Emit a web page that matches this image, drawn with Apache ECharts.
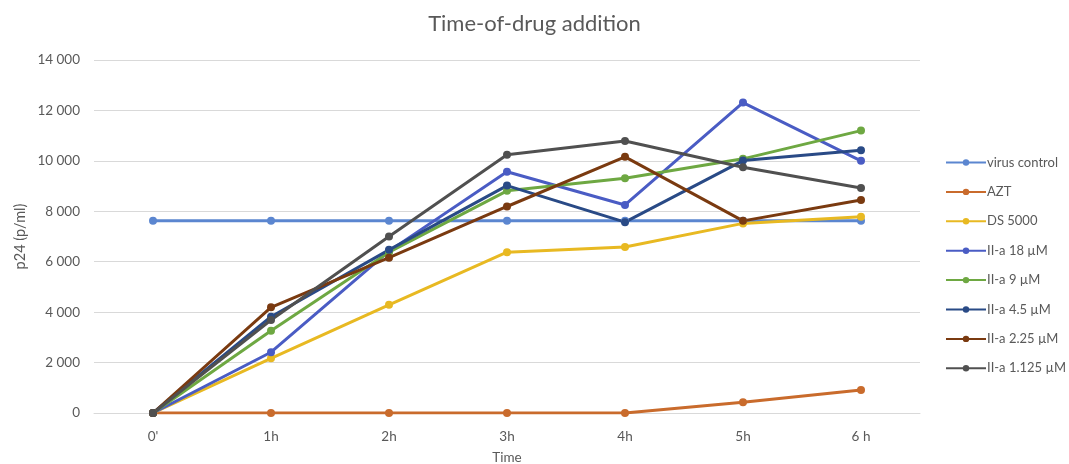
<!DOCTYPE html>
<html>
<head>
<meta charset="utf-8">
<script src="https://cdn.jsdelivr.net/npm/echarts@6/dist/echarts.min.js"></script>
<style>html,body{margin:0;padding:0;background:#fff}#c{width:1069px;height:464px}</style>
</head>
<body>
<div id="c"></div>
<script>
const categories = ["0'", "1h", "2h", "3h", "4h", "5h", "6 h"];
const virusControl = [7620, 7620, 7620, 7620, 7620, 7620, 7620];
const azt = [0, 0, 0, 0, 0, 430, 910];
const ds5000 = [0, 2170, 4290, 6380, 6580, 7520, 7780];
const iia18 = [0, 2410, 6420, 9570, 8250, 12310, 10000];
const iia9 = [0, 3260, 6380, 8810, 9310, 10080, 11200];
const iia45 = [0, 3820, 6470, 9020, 7570, 10010, 10420];
const iia225 = [0, 4190, 6160, 8190, 10160, 7620, 8450];
const iia1125 = [0, 3690, 7000, 10240, 10790, 9750, 8920];

const seriesNames = ["virus control", "AZT", "DS 5000", "II-a 18 µM", "II-a 9 µM", "II-a 4.5 µM", "II-a 2.25 µM", "II-a 1.125 µM"];
const seriesData = [virusControl, azt, ds5000, iia18, iia9, iia45, iia225, iia1125];
const colors = ["#5B86D0", "#C96B2C", "#E8B922", "#4A5CC4", "#6EA842", "#294A86", "#7A3A10", "#505050"];

const chart = echarts.init(document.getElementById('c'));
chart.setOption({
  animation: false,
  backgroundColor: '#fff',
  textStyle: { fontFamily: 'Lato, "Open Sans", sans-serif' },
  title: {
    text: 'Time-of-drug addition',
    left: 'center', top: 8,
    textStyle: { fontSize: 22, fontWeight: 'normal', color: '#595959', fontFamily: 'Lato' }
  },
  legend: {
    orient: 'vertical',
    left: 940, top: 150,
    padding: 5,
    itemGap: 14.4,
    itemWidth: 40, itemHeight: 8,
    textStyle: { fontSize: 13, lineHeight: 15, color: '#595959', fontFamily: 'Lato', padding: [0, 0, 0, -4] },
    data: seriesNames
  },
  grid: { left: 94, right: 149, top: 60, bottom: 51, outerBoundsMode: 'none', containLabel: false },
  xAxis: {
    type: 'category',
    data: categories,
    boundaryGap: true,
    name: 'Time', nameLocation: 'middle', nameGap: 38,
    nameTextStyle: { fontSize: 13.5, color: '#595959' },
    axisLine: { show: true, lineStyle: { color: '#d9d9d9' } },
    axisTick: { show: false },
    axisLabel: { fontSize: 13.5, color: '#595959', margin: 17 }
  },
  yAxis: {
    type: 'value',
    min: 0, max: 14000, interval: 2000,
    name: 'p24 (p/ml)', nameLocation: 'middle', nameGap: 66, nameRotate: 90,
    nameMoveOverlap: false,
    nameTextStyle: { fontSize: 14.5, color: '#595959' },
    axisLine: { show: false },
    axisTick: { show: false },
    axisLabel: {
      fontSize: 13.5, color: '#595959', margin: 14,
      formatter: v => String(v).replace(/\B(?=(\d{3})+(?!\d))/g, ' ')
    },
    splitLine: { lineStyle: { color: '#d9d9d9', width: 1 } }
  },
  series: seriesNames.map((n, i) => ({
    name: n,
    type: 'line',
    data: seriesData[i],
    color: colors[i],
    symbol: 'circle',
    symbolSize: 8,
    lineStyle: { width: 3 },
    itemStyle: { color: colors[i] }
  }))
});
</script>
</body>
</html>
